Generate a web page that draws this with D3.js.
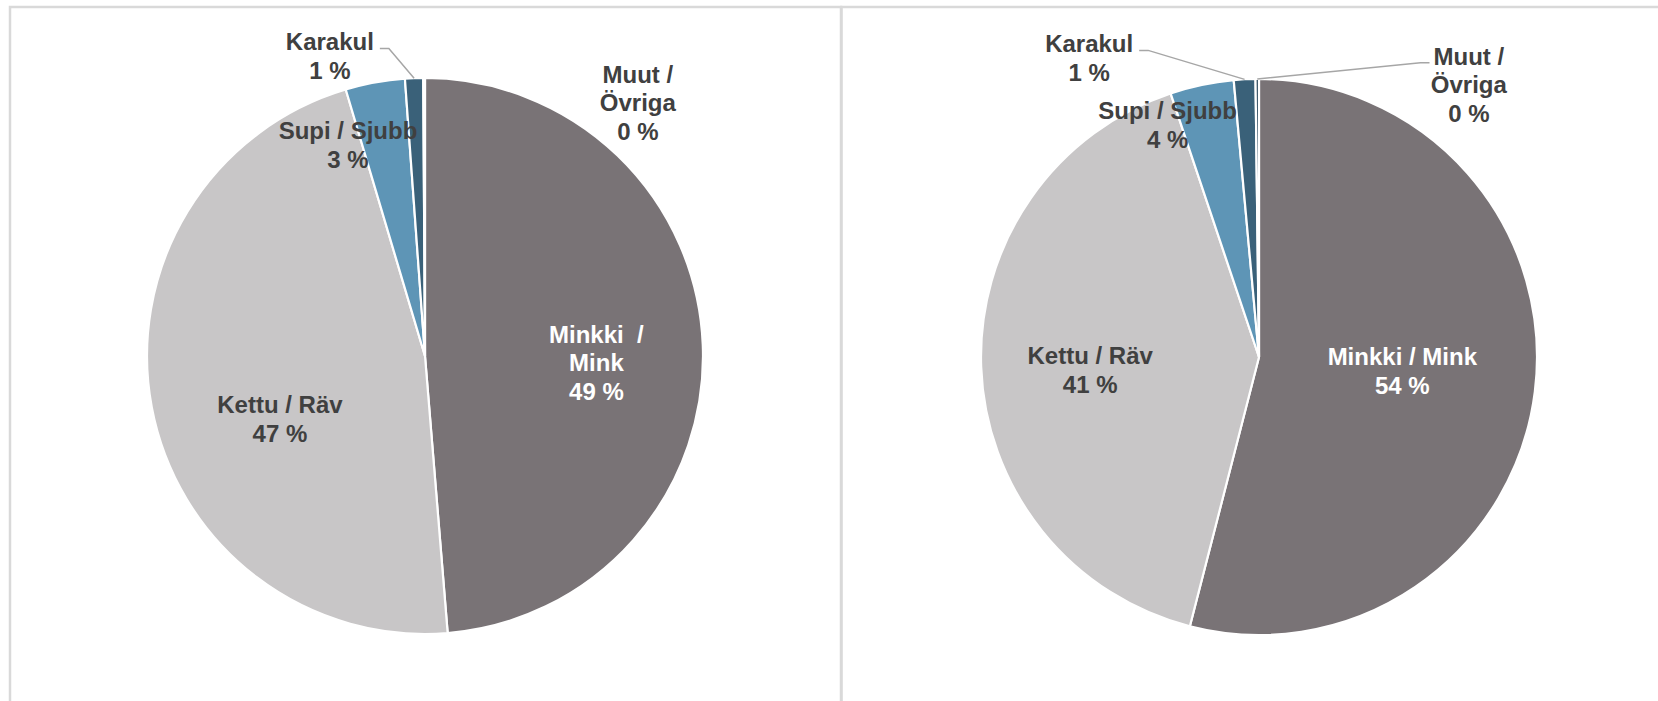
<!DOCTYPE html>
<html lang="fi">
  <head>
    <meta charset="UTF-8" />
    <title>Turkistuotanto</title>
    <style>
      body { margin: 0; background: #fff; }
      svg text { font-family: "Liberation Sans", Arial, sans-serif; font-weight: bold; white-space: pre; }
    </style>
  </head>
  <body>
    <script src="https://cdn.jsdelivr.net/npm/d3@7"></script>
    <script>

      // slice order: Minkki, Kettu, Supi, Karakul, Muut
      var categories = ["Minkki / Mink", "Kettu / Räv", "Supi / Sjubb", "Karakul", "Muut / Övriga"];
      var valuesLeft = [48.7, 46.7, 3.45, 1.05, 0.1];
      var valuesRight = [54.0, 40.85, 3.7, 1.25, 0.2];

      // label lines as they wrap in each chart (percentage added below)
      var labelsLeft = [["Minkki  /", "Mink"], ["Kettu / Räv"], ["Supi / Sjubb"], ["Karakul"], ["Muut /", "Övriga"]];
      var labelsRight = [["Minkki / Mink"], ["Kettu / Räv"], ["Supi / Sjubb"], ["Karakul"], ["Muut /", "Övriga"]];

      var colors = ["#797376", "#c8c6c7", "#5e95b6", "#3a6179", "#2c4a5e"];
      var textColors = ["#ffffff", "#404040", "#404040", "#404040", "#404040"];

      // label placement [angle in degrees, distance / radius] and leader lines
      var placeLeft = [[92.2, 0.617], [246.5, 0.569], [339.95, 0.808], [342.4, 1.132], [40.0, 1.191]];
      var placeRight = [[95.6, 0.518], [265.6, 0.609], [338.5, 0.897], [330.4, 1.237], [37.6, 1.237]];
      var leadersLeft = [false, false, false, true, false];
      var leadersRight = [false, false, false, true, true];

      var w = 1658, h = 701;
      var radius = 278;
      var fontSize = 24, lineH = 28.5;

      var svg = d3.select("body").append("svg")
                  .attr("width", w)
                  .attr("height", h);

      // panel frames
      svg.append("rect")
         .attr("x", 10).attr("y", 7)
         .attr("width", 831).attr("height", h + 20)
         .attr("fill", "none").attr("stroke", "#d9d9d9").attr("stroke-width", 2.5);
      svg.append("rect")
         .attr("x", 841.5).attr("y", 7)
         .attr("width", w).attr("height", h + 20)
         .attr("fill", "none").attr("stroke", "#d9d9d9").attr("stroke-width", 2.5);

      var charts = [
        { cx: 425, cy: 356, values: valuesLeft, labels: labelsLeft, place: placeLeft, leaders: leadersLeft },
        { cx: 1259, cy: 357, values: valuesRight, labels: labelsRight, place: placeRight, leaders: leadersRight }
      ];

      var pie = d3.pie().sort(null).value(function(d) { return d; });
      var arc = d3.arc().innerRadius(0).outerRadius(radius);

      charts.forEach(function(c) {
        var g = svg.append("g")
                   .attr("transform", "translate(" + c.cx + "," + c.cy + ")");

        var arcs = pie(c.values);

        g.selectAll("path.slice")
         .data(arcs)
         .enter()
         .append("path")
         .attr("class", "slice")
         .attr("d", arc)
         .attr("fill", function(d, i) { return colors[i]; })
         .attr("stroke", "#ffffff")
         .attr("stroke-width", 2.2)
         .attr("stroke-linejoin", "round");

        arcs.forEach(function(d, i) {
          var p = d3.pointRadial(c.place[i][0] * Math.PI / 180, c.place[i][1] * radius);
          var lines = c.labels[i].concat([Math.round(d.value) + " %"]);
          var firstY = p[1] - (lines.length - 1) * lineH / 2 + fontSize * 0.36;

          var t = g.append("text")
                   .attr("text-anchor", "middle")
                   .attr("font-size", fontSize)
                   .attr("fill", textColors[i]);
          lines.forEach(function(s, k) {
            t.append("tspan")
             .attr("x", p[0])
             .attr("y", firstY + k * lineH)
             .text(s);
          });

          if (c.leaders[i]) {
            var mid = (d.startAngle + d.endAngle) / 2;
            var a = d3.pointRadial(mid, radius);
            var half = t.select("tspan").node().getComputedTextLength() / 2;
            var ly = firstY - 2;
            var pts;
            if (p[0] < a[0]) {
              var x0 = p[0] + half + 6;
              pts = [[x0, ly], [x0 + 9, ly], a];
            } else {
              var x1 = p[0] - half - 4;
              pts = [[x1, ly], [x1 - 9, ly], a];
            }
            g.append("path")
             .attr("d", d3.line()(pts))
             .attr("fill", "none")
             .attr("stroke", "#a6a6a6")
             .attr("stroke-width", 1.5);
          }
        });
      });

    </script>
  </body>
</html>
